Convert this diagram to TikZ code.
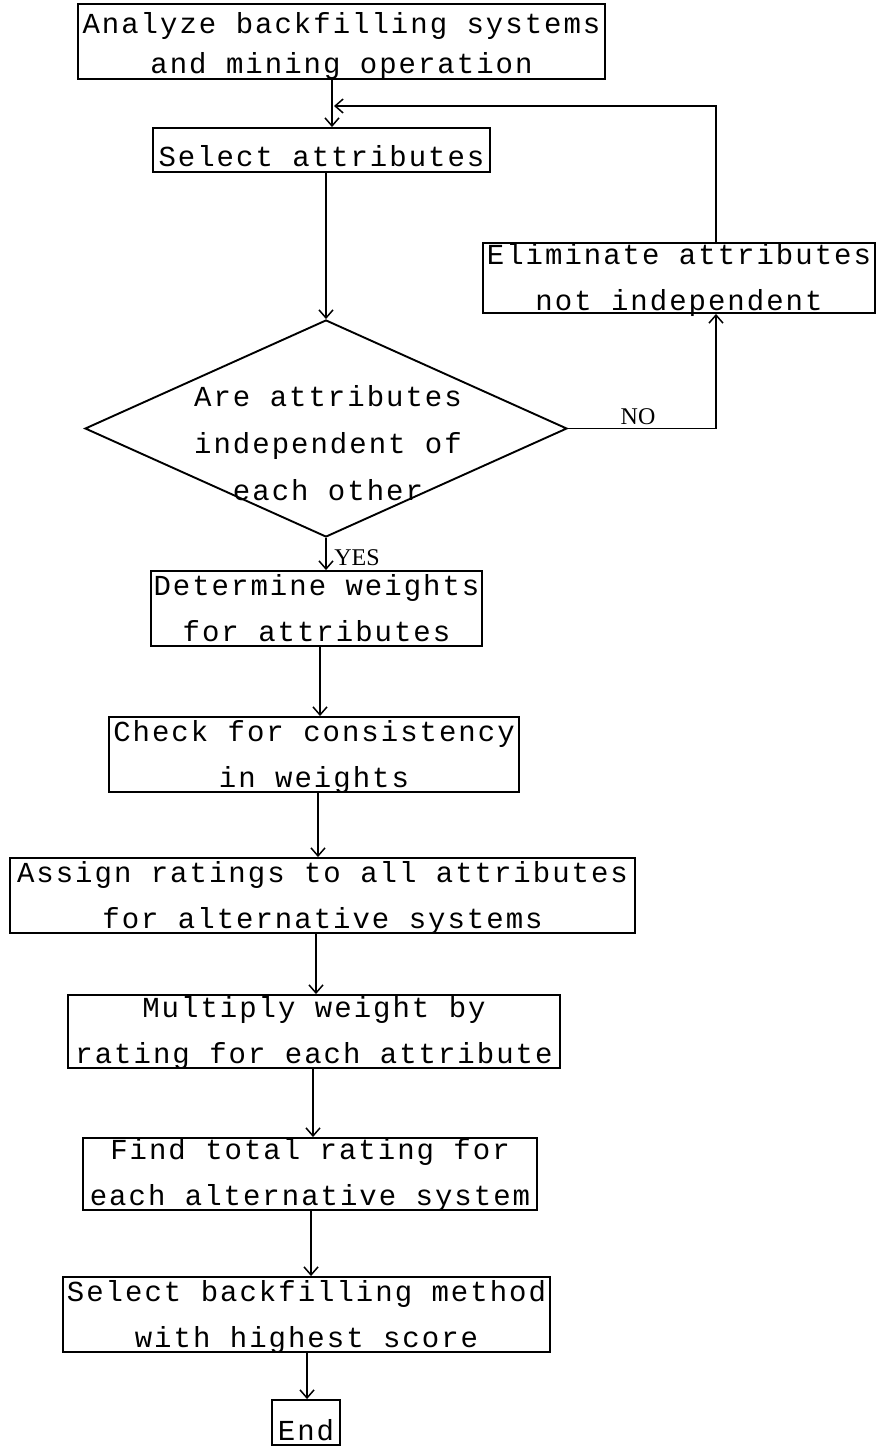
\documentclass[tikz,border=0pt]{standalone}
\usepackage{fontspec}
\setmainfont{Liberation Serif}
\newfontfamily\plotfont[LetterSpace=6.9]{Liberation Mono}
\usetikzlibrary{arrows.meta,shapes.geometric}
\begin{document}
\begin{tikzpicture}[x=1pt,y=-1pt,
  box/.style={draw, line width=1.9pt, inner sep=0pt, align=center,
    font=\plotfont\fontsize{29}{46}\selectfont},
  two/.style={minimum height=#1, text height=#1-5pt, text depth=5pt},
  arr/.style={line width=1.5pt, -{Straight Barb[length=8pt,width=14pt]}},
  lab/.style={font=\fontsize{24}{24}\selectfont, inner sep=0pt},
  dec/.style={draw, diamond, line width=1.9pt, inner sep=0pt, minimum width=482pt, minimum height=217pt},
  dectxt/.style={inner sep=0pt, align=center, font=\plotfont\fontsize{29}{47}\selectfont}]
\useasboundingbox (0,0) rectangle (886,1447);

\node[box, minimum width=527pt, two=75pt, font=\plotfont\fontsize{29}{40}\selectfont] (b1) at (341.5,41.5) {Analyze backfilling systems\\and mining operation};
\node[box, minimum width=337pt, two=44pt] (b2) at (321.5,150) {Select attributes};
\node[box, minimum width=392pt, minimum height=70pt, text height=67pt, text depth=3pt] (elim) at (679,278) {Eliminate attributes\\not independent};
\node[dec] (d) at (326,428.5) {};
\node[dectxt] (dt) at (328,443) {Are attributes\\independent of\\each other};
\node[box, minimum width=331pt, two=75pt] (det) at (316.5,608.5) {Determine weights\\for attributes};
\node[box, minimum width=410pt, two=75pt] (chk) at (314,754.5) {Check for consistency\\in weights};
\node[box, minimum width=625pt, two=75pt] (asg) at (322.5,895.5) {Assign ratings to all attributes\\for alternative systems};
\node[box, minimum width=492pt, two=73pt] (mul) at (314,1031.5) {Multiply weight by\\rating for each attribute};
\node[box, minimum width=454pt, two=72pt] (fnd) at (310,1174) {Find total rating for\\each alternative system};
\node[box, minimum width=487pt, two=75pt] (sel) at (306.5,1314.5) {Select backfilling method\\with highest score};
\node[box, minimum width=68pt, two=45pt] (end) at (306,1422.5) {End};

\coordinate (x1) at (332,0);
\coordinate (fb) at (334,106);
\coordinate (xr) at (716,0);
\coordinate (x4) at (320,0);
\coordinate (x5) at (318,0);
\coordinate (x6) at (316,0);
\coordinate (x7) at (313,0);
\coordinate (x8) at (311,0);
\coordinate (x9) at (307,0);

\draw[arr] (b1.south -| x1) -- (b2.north -| x1);
\draw[arr] (elim.north -| xr) |- (fb);
\draw[arr] (b2.south -| d.north) -- (d.north);
\draw[arr] (d.east) -| (elim.south -| xr);
\draw[arr] (d.south) -- (det.north -| d.south);
\draw[arr] (det.south -| x4) -- (chk.north -| x4);
\draw[arr] (chk.south -| x5) -- (asg.north -| x5);
\draw[arr] (asg.south -| x6) -- (mul.north -| x6);
\draw[arr] (mul.south -| x7) -- (fnd.north -| x7);
\draw[arr] (fnd.south -| x8) -- (sel.north -| x8);
\draw[arr] (sel.south -| x9) -- (end.north -| x9);

\node[lab] (no) at (638,417) {NO};
\node[lab] (yes) at (357,558) {YES};
\end{tikzpicture}
\end{document}
